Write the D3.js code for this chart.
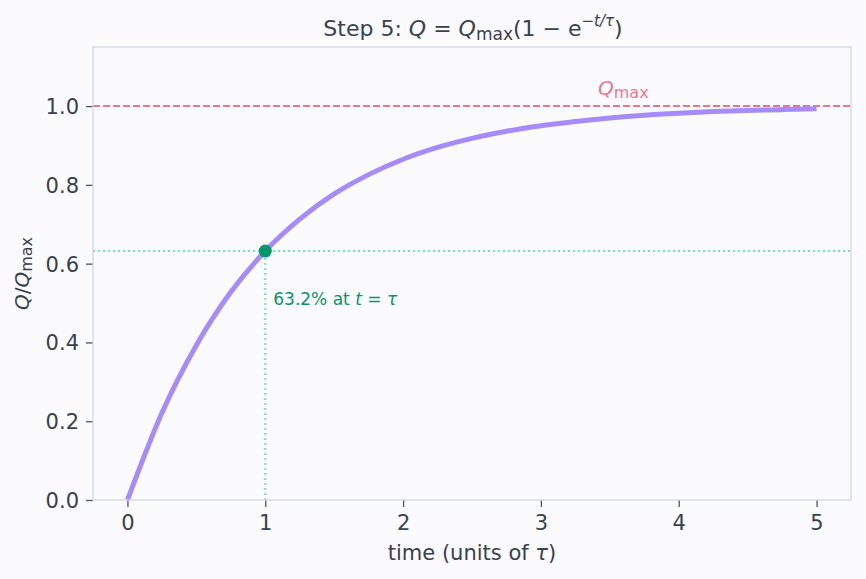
<!DOCTYPE html>
<html><head><meta charset="utf-8">
<script src="https://cdn.jsdelivr.net/npm/d3@7"></script>
<style>
html,body{margin:0;padding:0;background:#fbfbfe;}
svg{display:block;font-family:"DejaVu Sans",sans-serif;}
</style></head>
<body><svg id="c" width="866" height="579"></svg>
<script>
// data
const tValues = [0,0.25,0.5,0.75,1,1.25,1.5,1.75,2,2.25,2.5,2.75,3,3.25,3.5,3.75,4,4.25,4.5,4.75,5];
const qValues = [0,0.221,0.393,0.528,0.632,0.713,0.777,0.826,0.865,0.895,0.918,0.936,0.950,0.961,0.970,0.977,0.982,0.986,0.989,0.991,0.993];
const xTicks = [0,1,2,3,4,5];
const yTicks = [0,0.2,0.4,0.6,0.8,1.0];
const qMax = 1.0;
const markT = 1, markQ = 0.632;

const svg = d3.select("#c");
const L=93, R=851, T=47, B=500;
const x = d3.scaleLinear().domain([-0.25,5.25]).range([L,R]);
const y = d3.scaleLinear().domain([0,1.15]).range([B,T]);
const txt="#374151", spine="#cfd6df";

svg.append("rect").attr("width",866).attr("height",579).attr("fill","#fbfbfe");

// axes
const xa = svg.append("g").attr("transform",`translate(0,${B})`)
  .call(d3.axisBottom(x).tickValues(xTicks).tickFormat(d3.format("d")).tickSize(7).tickPadding(7));
const ya = svg.append("g").attr("transform",`translate(${L},0)`)
  .call(d3.axisLeft(y).tickValues(yTicks).tickFormat(d3.format(".1f")).tickSize(7).tickPadding(7));
[xa,ya].forEach(a=>{
  a.select(".domain").remove();
  a.selectAll(".tick line").attr("stroke","#4b5563").attr("stroke-width",1.3);
  a.selectAll(".tick text").attr("fill",txt).style("font-size","21px").style("font-family","DejaVu Sans");
});
xa.selectAll(".tick text").attr("dy","0.76em");
ya.selectAll(".tick text").attr("dy","0.36em");

// reference lines
svg.append("line").attr("x1",L).attr("x2",R).attr("y1",y(qMax)).attr("y2",y(qMax))
  .attr("stroke","#f4708a").attr("stroke-width",2).attr("stroke-dasharray","7,3");
svg.append("line").attr("x1",L).attr("x2",R).attr("y1",y(markQ)).attr("y2",y(markQ))
  .attr("stroke","#6ee7b7").attr("stroke-width",2).attr("stroke-dasharray","2,3");
svg.append("line").attr("x1",x(markT)).attr("x2",x(markT)).attr("y1",y(0)).attr("y2",y(markQ))
  .attr("stroke","#6ee7b7").attr("stroke-width",2).attr("stroke-dasharray","2,3");

// curve
const pts = tValues.map((t,i)=>[t,qValues[i]]);
svg.append("path").datum(pts)
  .attr("d", d3.line().x(d=>x(d[0])).y(d=>y(d[1])).curve(d3.curveMonotoneX))
  .attr("fill","none").attr("stroke","#a78bfa").attr("stroke-width",5);

svg.append("circle").attr("cx",x(markT)).attr("cy",y(markQ)).attr("r",6.5).attr("fill","#059669");

// spines
svg.append("rect").attr("x",L).attr("y",T).attr("width",R-L).attr("height",B-T)
  .attr("fill","none").attr("stroke",spine).attr("stroke-width",1.3);

// annotation
const ann = svg.append("text").attr("x",x(markT)+8).attr("y",305).attr("fill","#059669").style("font-size","17px");
ann.append("tspan").text("63.2% at ");
ann.append("tspan").attr("font-style","italic").text("t");
ann.append("tspan").text(" = ");
ann.append("tspan").attr("font-style","italic").text("τ");

// Qmax label
const ql = svg.append("text").attr("x",598).attr("y",95).attr("fill","#f07591").style("font-size","20px");
ql.append("tspan").attr("font-style","italic").text("Q");
ql.append("tspan").attr("dy",3).style("font-size","16px").text("max");

// title
const tt = svg.append("text").attr("x",(L+R)/2 + 1).attr("y",36).attr("text-anchor","middle").attr("fill",txt).style("font-size","22px");
tt.append("tspan").text("Step 5: ");
tt.append("tspan").attr("font-style","italic").text("Q");
tt.append("tspan").text(" = ");
tt.append("tspan").attr("font-style","italic").text("Q");
tt.append("tspan").attr("dy",4).style("font-size","17px").text("max");
tt.append("tspan").attr("dy",-4).text("(1 − e");
tt.append("tspan").attr("dy",-10).style("font-size","15px").attr("font-style","italic").text("−t/τ");
tt.append("tspan").attr("dy",10).text(")");

// x label
const xl = svg.append("text").attr("x",(L+R)/2).attr("y",560).attr("text-anchor","middle").attr("fill",txt).style("font-size","21px");
xl.append("tspan").text("time (units of ");
xl.append("tspan").attr("font-style","italic").text("τ");
xl.append("tspan").text(")");

// y label
const yl = svg.append("text").attr("transform",`translate(29,${(T+B)/2}) rotate(-90)`).attr("text-anchor","middle").attr("fill",txt).style("font-size","20px");
yl.append("tspan").attr("font-style","italic").text("Q");
yl.append("tspan").text("/");
yl.append("tspan").attr("font-style","italic").text("Q");
yl.append("tspan").attr("dy",3).style("font-size","16px").text("max");
</script></body></html>
